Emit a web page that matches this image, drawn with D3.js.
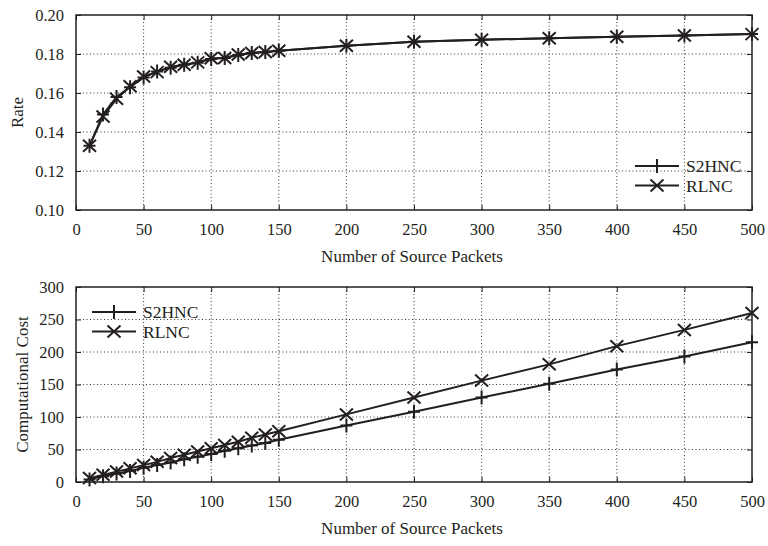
<!DOCTYPE html>
<html>
<head>
<meta charset="utf-8">
<script src="https://cdn.jsdelivr.net/npm/d3@7"></script>
<style>
    body { margin: 0; background: #fff; }
    svg text { font-family: "Liberation Serif", "Times New Roman", serif; fill: #231f20; }
</style>
</head>
<body>
<div class="chart"></div>
<script>
// source packet counts
const packets = [10, 20, 30, 40, 50, 60, 70, 80, 90, 100, 110, 120, 130, 140, 150, 200, 250, 300, 350, 400, 450, 500];

// rate (top panel)
const rateS2HNC = [0.133, 0.149, 0.158, 0.163, 0.168, 0.171, 0.173, 0.1745, 0.1755, 0.1775, 0.178, 0.1795, 0.1805, 0.181, 0.1817, 0.1842, 0.1863, 0.1873, 0.1881, 0.1888, 0.1895, 0.1902];
const rateRLNC = [0.133, 0.148, 0.157, 0.1635, 0.1685, 0.1707, 0.1735, 0.1745, 0.1757, 0.1778, 0.178, 0.1797, 0.1805, 0.181, 0.1817, 0.1842, 0.1863, 0.1873, 0.1881, 0.1888, 0.1895, 0.1902];

// computational cost (bottom panel)
const costS2HNC = [4, 9, 13, 17, 22, 26, 30, 35, 39, 43, 48, 52, 56, 60, 65, 87, 108, 130, 151, 173, 193, 215];
const costRLNC = [6, 11, 16, 21, 26, 31, 37, 42, 47, 52, 57, 62, 68, 73, 78, 104, 130, 156, 181, 209, 234, 260];

const xTicks = [0, 50, 100, 150, 200, 250, 300, 350, 400, 450, 500];
const rateTicks = [0.10, 0.12, 0.14, 0.16, 0.18, 0.20];
const costTicks = [0, 50, 100, 150, 200, 250, 300];
const seriesNames = ["S2HNC", "RLNC"];

const width = 768;
const height = 546;
const ink = "#231f20";

const svg = d3.select('.chart')
    .append('svg')
    .attr('width', width)
    .attr('height', height);

function drawMarker(g, kind, x, y) {
    if (kind == "plus") {
        g.append("path")
            .attr("d", `M${x - 6},${y}H${x + 6}M${x},${y - 7}V${y + 7}`)
            .attr("stroke", ink).attr("stroke-width", 2).attr("fill", "none");
    } else {
        g.append("path")
            .attr("d", `M${x - 6.5},${y - 6}L${x + 6.5},${y + 6}M${x - 6.5},${y + 6}L${x + 6.5},${y - 6}`)
            .attr("stroke", ink).attr("stroke-width", 2).attr("fill", "none");
    }
}

function panel(opts) {
    const left = 76, right = 752;
    const top = opts.top, bottom = opts.bottom;
    const g = svg.append("g");

    const x = d3.scaleLinear().domain([0, 500]).range([left, right]);
    const y = d3.scaleLinear().domain(opts.yDomain).range([bottom, top]);

    // dotted grid
    g.selectAll(".vgrid")
        .data(xTicks.slice(1, -1))
        .enter()
        .append("line")
        .attr("x1", d => x(d)).attr("x2", d => x(d))
        .attr("y1", top).attr("y2", bottom)
        .attr("stroke", ink).attr("stroke-width", 0.9)
        .attr("stroke-dasharray", "1,2.5");
    g.selectAll(".hgrid")
        .data(opts.yTicks.slice(1, -1))
        .enter()
        .append("line")
        .attr("x1", left).attr("x2", right)
        .attr("y1", d => y(d)).attr("y2", d => y(d))
        .attr("stroke", ink).attr("stroke-width", 0.9)
        .attr("stroke-dasharray", "1,2.5");

    // axes with inward ticks
    const axB = g.append("g").attr("transform", `translate(0,${bottom})`)
        .call(d3.axisBottom(x).tickValues(xTicks).tickSize(-5).tickPadding(13).tickFormat(d3.format("d")));
    const axT = g.append("g").attr("transform", `translate(0,${top})`)
        .call(d3.axisTop(x).tickValues(xTicks).tickSize(-5).tickFormat(""));
    const axL = g.append("g").attr("transform", `translate(${left},0)`)
        .call(d3.axisLeft(y).tickValues(opts.yTicks).tickSize(-5).tickPadding(12).tickFormat(opts.fmt));
    const axR = g.append("g").attr("transform", `translate(${right},0)`)
        .call(d3.axisRight(y).tickValues(opts.yTicks).tickSize(-5).tickFormat(""));
    [axB, axT, axL, axR].forEach(a => {
        a.select(".domain").remove();
        a.selectAll("line").attr("stroke", ink).attr("stroke-width", 1);
        a.selectAll("text").attr("font-size", "16.5px")
            .style("font-family", "'Liberation Serif', serif").attr("fill", ink);
    });

    g.append("rect")
        .attr("x", left).attr("y", top)
        .attr("width", right - left).attr("height", bottom - top)
        .attr("fill", "none").attr("stroke", ink).attr("stroke-width", 1.5);

    const line = d3.line()
        .x((d, i) => x(packets[i]))
        .y(d => y(d));

    const kinds = ["plus", "cross"];
    opts.series.forEach((s, k) => {
        g.append("path")
            .datum(s)
            .attr("d", line)
            .attr("fill", "none")
            .attr("stroke", ink)
            .attr("stroke-width", 2);
        s.forEach((v, i) => drawMarker(g, kinds[k], x(packets[i]), y(v)));
    });

    // legend
    seriesNames.forEach((name, k) => {
        const ly = opts.legendY + k * 19.5;
        g.append("line")
            .attr("x1", opts.legendX).attr("x2", opts.legendX + 44)
            .attr("y1", ly).attr("y2", ly)
            .attr("stroke", ink).attr("stroke-width", 2);
        drawMarker(g, kinds[k], opts.legendX + 22, ly);
        g.append("text")
            .attr("x", opts.legendX + 51).attr("y", ly + 6)
            .attr("font-size", "17.5px")
            .text(name);
    });

    g.append("text")
        .attr("x", (left + right) / 2 - 2).attr("y", bottom + 52)
        .attr("text-anchor", "middle")
        .attr("font-size", "17px")
        .text("Number of Source Packets");

    g.append("text")
        .attr("transform", `translate(${opts.titleX},${(top + bottom) / 2}) rotate(-90)`)
        .attr("text-anchor", "middle")
        .attr("font-size", "17px")
        .text(opts.title);
}

panel({
    top: 15, bottom: 210,
    yDomain: [0.10, 0.20], yTicks: rateTicks, fmt: d3.format(".2f"),
    series: [rateS2HNC, rateRLNC],
    legendX: 635, legendY: 166,
    title: "Rate", titleX: 23
});

panel({
    top: 287, bottom: 482,
    yDomain: [0, 300], yTicks: costTicks, fmt: d3.format("d"),
    series: [costS2HNC, costRLNC],
    legendX: 92, legendY: 312,
    title: "Computational Cost", titleX: 28
});
</script>
</body>
</html>
